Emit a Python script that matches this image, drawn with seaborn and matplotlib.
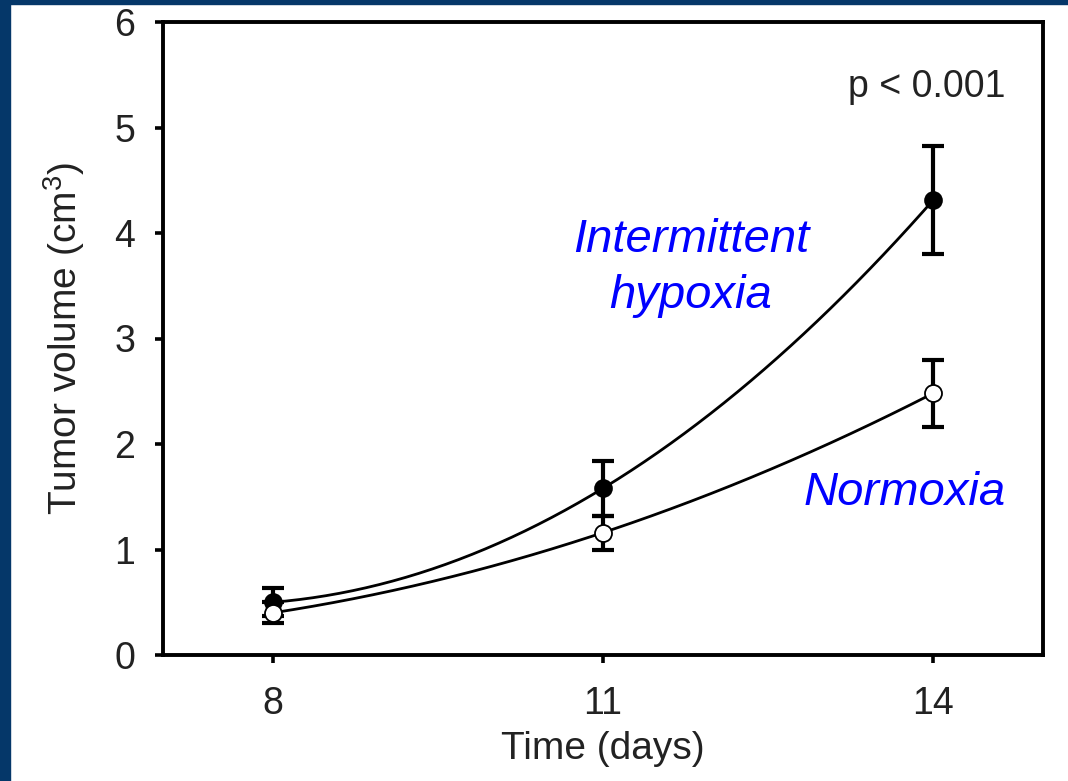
import numpy as np
import pandas as pd
import matplotlib
matplotlib.use("Agg")
import matplotlib.pyplot as plt
import seaborn as sns
from matplotlib.patches import Rectangle

# ---- data ----
days = [8, 11, 14]
hypoxia_mean = [0.50, 1.58, 4.31]
hypoxia_err = [0.135, 0.26, 0.51]
normoxia_mean = [0.40, 1.16, 2.48]
normoxia_err = [0.10, 0.16, 0.32]
x_ticks = [8, 11, 14]
y_ticks = [0, 1, 2, 3, 4, 5, 6]

sns.set_style("ticks")
plt.rcParams["font.family"] = ["Liberation Sans", "DejaVu Sans"]
plt.rcParams["mathtext.fontset"] = "custom"
plt.rcParams["mathtext.rm"] = "Liberation Sans"

fig = plt.figure(figsize=(10.68, 7.81), dpi=100)
fig.patch.set_facecolor("white")
ax = fig.add_axes([163/1068, 1 - 655/781, (1043-163)/1068, (655-22)/781])

navy = "#053769"
fig.patches.append(Rectangle((0, 0), 10/1068, 1, transform=fig.transFigure, color=navy, zorder=10))
fig.patches.append(Rectangle((0, 1 - 4/781), 1, 4/781, transform=fig.transFigure, color=navy, zorder=10))

# smooth curves through the points (quadratic through the three means)
xs = np.linspace(min(days), max(days), 200)
curves = []
for name, m in [("Intermittent hypoxia", hypoxia_mean), ("Normoxia", normoxia_mean)]:
    c = np.polyfit(days, m, 2)
    curves.append(pd.DataFrame({"x": xs, "y": np.polyval(c, xs), "grp": name}))
curve_df = pd.concat(curves)
sns.lineplot(data=curve_df, x="x", y="y", units="grp", estimator=None,
             color="black", lw=2.0, ax=ax, zorder=2)

# error bars
for m, e in [(hypoxia_mean, hypoxia_err), (normoxia_mean, normoxia_err)]:
    ax.errorbar(days, m, yerr=e, fmt="none", ecolor="black", elinewidth=3,
                capsize=8, capthick=3, zorder=3)

# markers
pts = pd.DataFrame({"x": days * 2, "y": hypoxia_mean + normoxia_mean,
                    "grp": ["h"] * 3 + ["n"] * 3})
sns.scatterplot(data=pts[pts.grp == "h"], x="x", y="y", color="black",
                edgecolor="black", s=150, linewidth=1.2, ax=ax, zorder=4, legend=False)
sns.scatterplot(data=pts[pts.grp == "n"], x="x", y="y", color="white",
                edgecolor="black", s=150, linewidth=1.3, ax=ax, zorder=4, legend=False)

ax.set_xlim(7, 15)
ax.set_ylim(0, 6)
ax.set_xticks(x_ticks)
ax.set_yticks(y_ticks)
ax.set_xticklabels([str(t) for t in x_ticks])
ax.set_yticklabels([str(t) for t in y_ticks])
ax.tick_params(axis="both", direction="out", length=6, width=2.6,
               labelsize=27, color="black", labelcolor="#222222")
ax.tick_params(axis="x", pad=16)
ax.tick_params(axis="y", pad=14)
for s in ax.spines.values():
    s.set_linewidth(2.8)
    s.set_color("black")
    s.set_visible(True)

ax.set_xlabel("Time (days)", fontsize=28, color="#222222", labelpad=7)
ax.set_ylabel("Tumor volume (cm$^3$)", fontsize=28, color="#222222", labelpad=20)

ax.text(11.8, 3.82, "Intermittent", color="#0000FF", fontsize=34,
        style="italic", ha="center", va="baseline")
ax.text(11.8, 3.29, "hypoxia", color="#0000FF", fontsize=34,
        style="italic", ha="center", va="baseline")
ax.text(13.745, 1.42, "Normoxia", color="#0000FF", fontsize=34,
        style="italic", ha="center", va="baseline")
ax.text(13.94, 5.29, "p < 0.001", color="#222222", fontsize=27,
        ha="center", va="baseline")

fig.savefig("out.png", dpi=100, facecolor="white")
